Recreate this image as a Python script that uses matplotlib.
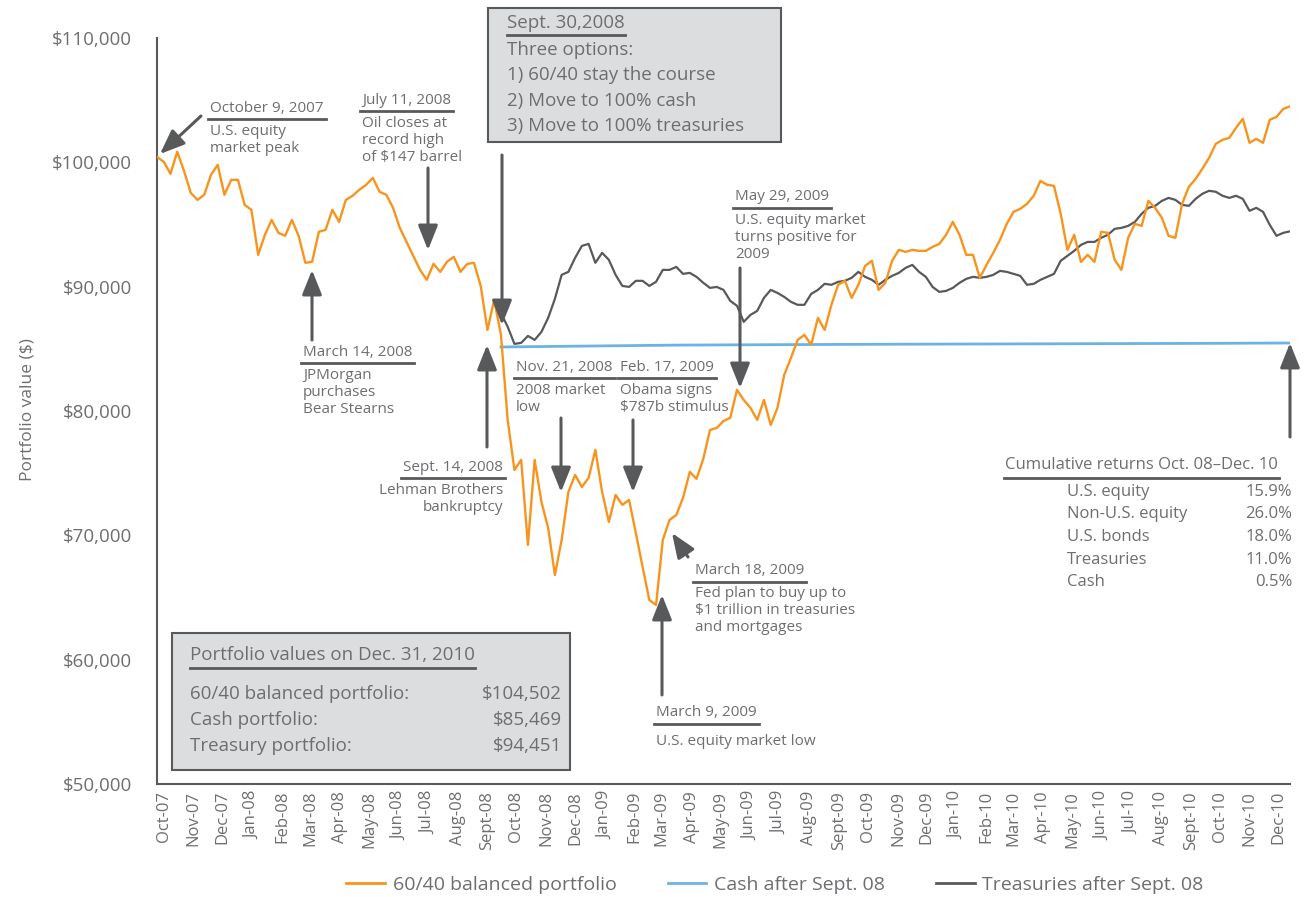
import numpy as np
import pandas as pd
import matplotlib
matplotlib.use("Agg")
import matplotlib.pyplot as plt
from matplotlib.lines import Line2D
from matplotlib.patches import FancyArrowPatch, Rectangle
from matplotlib.ticker import FuncFormatter

plt.rcParams['font.family'] = ['Open Sans', 'DejaVu Sans']

# weekly values, starting Oct 9, 2007
balanced = [
    100440, 100040, 99080, 100850, 99320, 97550, 96980, 97390, 98990, 99800,
    97390, 98590, 98590, 96580, 96180, 92560, 94170, 95370, 94330, 94090,
    95370, 94090, 91920, 92000, 94410, 94570, 96180, 95210, 96980, 97310,
    97790, 98190, 98750, 97630, 97390, 96340, 94730, 93600, 92480, 91350,
    90550, 91830, 91190, 92000, 92400, 91190, 91830, 91920, 90060, 86520,
    88940, 86120, 79280, 75260, 76070, 69230, 76070, 72690, 70600, 66810,
    69630, 73490, 74860, 73890, 74620, 76870, 73490, 71080, 73250, 72450,
    72850, 70190, 67460, 64800, 64400, 69630, 71240, 71640, 73010, 75100,
    74540, 76150, 78480, 78640, 79200, 79450, 81700, 80890, 80250, 79280,
    80890, 78880, 80250, 82900, 84270, 85720, 86120, 85320, 87490, 86520,
    88540, 90150, 90470, 89100, 90150, 91670, 92080, 89740, 90310, 92080,
    92960, 92800, 92960, 92880, 92880, 93200, 93440, 94170, 95210, 94170,
    92560, 92560, 90710, 91750, 92720, 93770, 95050, 96020, 96260, 96660,
    97310, 98510, 98190, 98110, 95860, 92960, 94170, 91990, 92560, 91990,
    94410, 94330, 92160, 91350, 93930, 95050, 94890, 96900, 96340, 95540,
    94090, 93930, 96660, 98030, 98670, 99480, 100360, 101490, 101810, 101970,
    102780, 103500, 101570, 101890, 101570, 103420, 103660, 104300, 104502,
]

# weekly values from Sept 30, 2008
treasuries = [
    87890, 86770, 85400, 85480, 86040, 85720, 86360, 87490, 89020, 90950,
    91190, 92320, 93280, 93440, 91920, 92720, 92160, 90950, 90060, 89980,
    90470, 90470, 90060, 90390, 91350, 91350, 91590, 91030, 91110, 90790,
    90310, 89900, 89980, 89740, 88860, 88460, 87170, 87730, 88050, 89100,
    89740, 89500, 89180, 88780, 88540, 88540, 89420, 89740, 90230, 90150,
    90390, 90470, 90710, 91190, 90790, 90550, 90150, 90550, 90870, 91110,
    91510, 91750, 91190, 90790, 89980, 89580, 89660, 89900, 90310, 90630,
    90790, 90710, 90790, 90950, 91270, 91190, 91030, 90870, 90150, 90230,
    90550, 90790, 91030, 92080, 92480, 92880, 93360, 93600, 93600, 93930,
    94170, 94650, 94730, 94890, 95210, 95860, 96340, 96500, 96900, 97140,
    96980, 96580, 96500, 97060, 97470, 97710, 97630, 97310, 97140, 97310,
    97060, 96100, 96340, 96020, 94970, 94090, 94330, 94451,
]

cash_dates = ['2008-09-30', '2009-03-31', '2009-09-30', '2010-03-31', '2010-09-30', '2010-12-28']
cash = [85150, 85300, 85360, 85400, 85440, 85469]

month_labels = [
    'Oct-07', 'Nov-07', 'Dec-07', 'Jan-08', 'Feb-08', 'Mar-08', 'Apr-08', 'May-08',
    'Jun-08', 'Jul-08', 'Aug-08', 'Sept-08', 'Oct-08', 'Nov-08', 'Dec-08', 'Jan-09',
    'Feb-09', 'Mar-09', 'Apr-09', 'May-09', 'Jun-09', 'Jul-09', 'Aug-09', 'Sept-09',
    'Oct-09', 'Nov-09', 'Dec-09', 'Jan-10', 'Feb-10', 'Mar-10', 'Apr-10', 'May-10',
    'Jun-10', 'Jul-10', 'Aug-10', 'Sept-10', 'Oct-10', 'Nov-10', 'Dec-10',
]

returns_labels = ['U.S. equity', 'Non-U.S. equity', 'U.S. bonds', 'Treasuries', 'Cash']
returns_values = ['15.9%', '26.0%', '18.0%', '11.0%', '0.5%']

final_labels = ['60/40 balanced portfolio:', 'Cash portfolio:', 'Treasury portfolio:']
final_values = ['$104,502', '$85,469', '$94,451']

ORANGE = '#F7941D'
BLUE = '#6BB3E2'
DARK = '#58595B'
TXT = '#6D6E71'
BOX = '#DCDDDE'

W, H = 1314, 897


def fx(x):
    return x / W


def fy(y):
    return 1 - y / H


dates = pd.date_range('2007-10-09', periods=len(balanced), freq='7D')
tsy_dates = pd.date_range('2008-09-30', periods=len(treasuries), freq='7D')
# month ticks sit mid-month
tick_dates = pd.date_range('2007-10-01', periods=len(month_labels), freq='MS') + pd.Timedelta(days=15)

fig = plt.figure(figsize=(W / 100, H / 100), dpi=100)
ax = fig.add_axes([fx(157), fy(784), fx(1290) - fx(157), fy(38) - fy(784)])

ax.plot(pd.to_datetime(cash_dates), cash, color=BLUE, lw=2.0, zorder=2)
ax.plot(tsy_dates, treasuries, color=DARK, lw=1.6, zorder=3)
ax.plot(dates, balanced, color=ORANGE, lw=1.7, zorder=4)

ax.set_xlim(dates[0], dates[-1])
ax.set_ylim(50000, 110000)
ax.set_yticks(np.arange(50000, 110001, 10000))
ax.yaxis.set_major_formatter(FuncFormatter(lambda v, p: f'${v:,.0f}'))
ax.set_xticks(tick_dates)
ax.set_xticklabels(month_labels, rotation=90, fontsize=12, color=TXT)
ax.tick_params(axis='x', length=0, pad=5)
ax.tick_params(axis='y', length=0, pad=18, labelsize=13.5, labelcolor=TXT)
for s in ['top', 'right']:
    ax.spines[s].set_visible(False)
for s in ['left', 'bottom']:
    ax.spines[s].set_color(DARK)
    ax.spines[s].set_linewidth(1.5)

fig.text(fx(28), fy(410), 'Portfolio value ($)', rotation=90, va='center', ha='center',
         fontsize=12.5, color=TXT)

renderer = fig.canvas.get_renderer()


def underline(t, pad=4, extra=2):
    bb = t.get_window_extent(renderer=renderer)
    y = bb.y0 - pad
    fig.add_artist(Line2D([(bb.x0 - extra) / W, (bb.x1 + extra) / W], [y / H, y / H],
                          color=DARK, lw=2.0, zorder=6))


def note(x, y, title, body, ha='left', size=11):
    t = fig.text(fx(x), fy(y), title, ha=ha, va='center', fontsize=size, color=TXT, zorder=6)
    underline(t)
    if body:
        fig.text(fx(x), fy(y + 16), body, ha=ha, va='top', fontsize=size, color=TXT,
                 linespacing=1.2, zorder=6)


def arrow(x0, y0, x1, y1):
    fig.add_artist(FancyArrowPatch((fx(x0), fy(y0)), (fx(x1), fy(y1)),
                                   transform=fig.transFigure,
                                   arrowstyle='-|>,head_length=0.75,head_width=0.3',
                                   mutation_scale=20, lw=2.2, color=DARK,
                                   shrinkA=0, shrinkB=0, zorder=7))


note(210, 108, 'October 9, 2007', 'U.S. equity\nmarket peak')
arrow(201, 116, 160, 154)

note(362, 100, 'July 11, 2008', 'Oil closes at\nrecord high\nof $147 barrel')
arrow(428, 168, 428, 250)

note(303, 352, 'March 14, 2008', 'JPMorgan\npurchases\nBear Stearns')
arrow(312, 340, 312, 270)

note(503, 467, 'Sept. 14, 2008', 'Lehman Brothers\nbankruptcy', ha='right')
arrow(487, 447, 487, 345)

note(516, 367, 'Nov. 21, 2008', '2008 market\nlow')
arrow(561, 418, 561, 492)

note(620, 367, 'Feb. 17, 2009', 'Obama signs\n$787b stimulus')
arrow(633, 420, 633, 492)

note(735, 197, 'May 29, 2009', 'U.S. equity market\nturns positive for\n2009')
arrow(740, 268, 740, 388)

note(695, 570, 'March 18, 2009', 'Fed plan to buy up to\n$1 trillion in treasuries\nand mortgages')
arrow(688, 557, 672, 533)

note(656, 712, 'March 9, 2009', '')
fig.text(fx(656), fy(741), 'U.S. equity market low', va='center', fontsize=11, color=TXT)
arrow(662, 695, 662, 595)

arrow(1290, 437, 1290, 343)

# Sept. 30 box
fig.add_artist(Rectangle((fx(488), fy(142)), fx(781) - fx(488), fy(8) - fy(142),
                         transform=fig.transFigure, facecolor=BOX, edgecolor=DARK,
                         lw=1.5, zorder=5))
box_lines = ['Three options:', '1) 60/40 stay the course', '2) Move to 100% cash',
             '3) Move to 100% treasuries']
t = fig.text(fx(507), fy(23), 'Sept. 30,2008', va='center', fontsize=13.5, color=TXT, zorder=6)
underline(t, pad=3, extra=0)
for i, s in enumerate(box_lines):
    fig.text(fx(507), fy(50 + 25.5 * i), s, va='center', fontsize=13.5, color=TXT, zorder=6)
arrow(502, 155, 502, 325)

# Portfolio values box
fig.add_artist(Rectangle((fx(172), fy(770)), fx(570) - fx(172), fy(633) - fy(770),
                         transform=fig.transFigure, facecolor=BOX, edgecolor=DARK,
                         lw=1.5, zorder=5))
t = fig.text(fx(190), fy(655), 'Portfolio values on Dec. 31, 2010', va='center',
             fontsize=13.5, color=TXT, zorder=6)
underline(t, pad=4, extra=0)
for i, (lab, val) in enumerate(zip(final_labels, final_values)):
    yy = 694 + 26 * i
    fig.text(fx(190), fy(yy), lab, va='center', fontsize=13.5, color=TXT, zorder=6)
    fig.text(fx(562), fy(yy), val, va='center', ha='right', fontsize=13.5, color=TXT, zorder=6)

# Cumulative returns table
t = fig.text(fx(1005), fy(465), 'Cumulative returns Oct. 08\u2013Dec. 10', va='center',
             fontsize=12, color=TXT)
underline(t, pad=5, extra=1)
for i, (lab, val) in enumerate(zip(returns_labels, returns_values)):
    yy = 492 + 22.5 * i
    fig.text(fx(1067), fy(yy), lab, va='center', fontsize=12, color=TXT)
    fig.text(fx(1292), fy(yy), val, va='center', ha='right', fontsize=12, color=TXT)

handles = [Line2D([], [], color=ORANGE, lw=2), Line2D([], [], color=BLUE, lw=2),
           Line2D([], [], color=DARK, lw=2)]
leg = fig.legend(handles, ['60/40 balanced portfolio', 'Cash after Sept. 08', 'Treasuries after Sept. 08'],
                 loc='center', bbox_to_anchor=(fx(775), fy(885)), ncol=3, frameon=False,
                 fontsize=14, handlelength=2.0, handletextpad=0.4, columnspacing=2.6)
for txt in leg.get_texts():
    txt.set_color(TXT)

fig.savefig('out.png', dpi=100)
